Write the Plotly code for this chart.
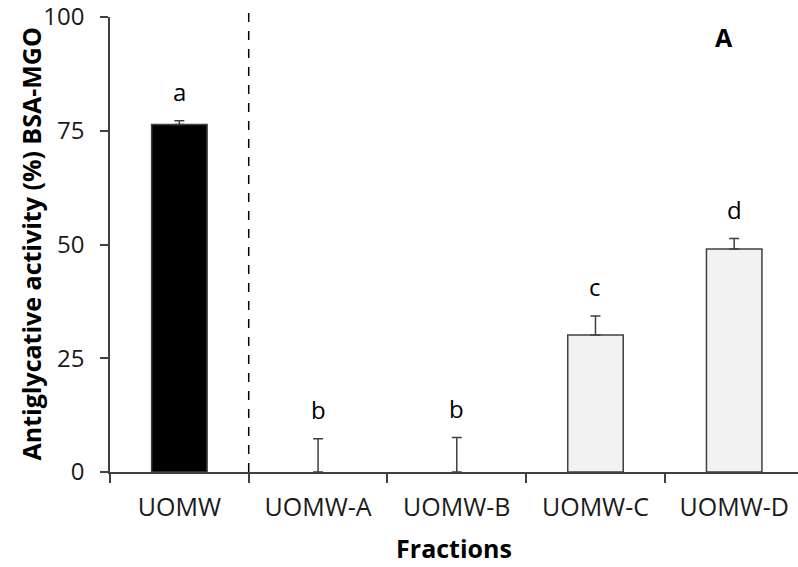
import plotly.graph_objects as go

categories = ["UOMW", "UOMW-A", "UOMW-B", "UOMW-C", "UOMW-D"]
values = [76.4, 0.0, 0.0, 30.1, 49.0]
errors = [0.8, 7.3, 7.6, 4.2, 2.3]
letters = ["a", "b", "b", "c", "d"]
fill_colors = ["#000000", "#f2f2f2", "#f2f2f2", "#f2f2f2", "#f2f2f2"]
outline_widths = [1.5, 0, 0, 1.5, 1.5]

FONT = "Open Sans, Lato, sans-serif"
AX = "#404040"

fig = go.Figure()
fig.add_trace(go.Bar(
    x=categories, y=values,
    width=0.4,
    marker=dict(color=fill_colors, line=dict(color=AX, width=outline_widths)),
    error_y=dict(type="data", array=errors, arrayminus=[0]*5, symmetric=False,
                 color=AX, thickness=1.5, width=5),
    showlegend=False,
))

for c, v, e, l in zip(categories, values, errors, letters):
    fig.add_annotation(x=c, y=v + e, text=l, showarrow=False, yshift=29,
                       yanchor="middle", font=dict(size=24, color="#000", family=FONT))

fig.add_annotation(xref="paper", yref="paper", x=0.909, y=0.956, text="<b>A</b>",
                   showarrow=False, yanchor="middle", font=dict(size=25, color="#000", family=FONT))

# y-axis title placed precisely
fig.add_annotation(xref="paper", yref="paper", x=(30 - 110) / 688, y=0.5, text="<b>Antiglycative activity (%) BSA-MGO</b>",
                   textangle=-90, showarrow=False, xanchor="center", yanchor="middle",
                   font=dict(size=25, color="#000", family=FONT))

fig.add_shape(type="line", xref="x", yref="paper", x0=0.5, x1=0.5, y0=0, y1=1.015,
              line=dict(color="#000", width=1.5, dash="dash"))

fig.update_layout(
    width=798, height=567,
    margin=dict(l=110, r=0, t=17, b=95),
    plot_bgcolor="white", paper_bgcolor="white",
    bargap=0.6,
    font=dict(family=FONT, color="#000"),
    xaxis=dict(
        range=[-0.5, 4.46], showline=True, linecolor=AX, linewidth=1.5,
        ticks="outside", tickson="boundaries", ticklen=9, tickcolor=AX, tickwidth=1.5,
        tickfont=dict(size=25, family=FONT, color="#1a1a1a"), ticklabelstandoff=12,
        title=dict(text="<b>Fractions</b>", font=dict(size=25, family=FONT), standoff=19),
    ),
    yaxis=dict(
        range=[0, 100], tickvals=[0, 25, 50, 75, 100], showline=True, linecolor=AX, linewidth=1.5,
        ticks="outside", ticklen=8, tickcolor=AX, tickwidth=1.5, showgrid=False, zeroline=False,
        tickfont=dict(size=24, family=FONT, color="#1a1a1a"), ticklabelstandoff=11,
        ticklabeloverflow="allow",
    ),
)

fig.write_html("out.html")
